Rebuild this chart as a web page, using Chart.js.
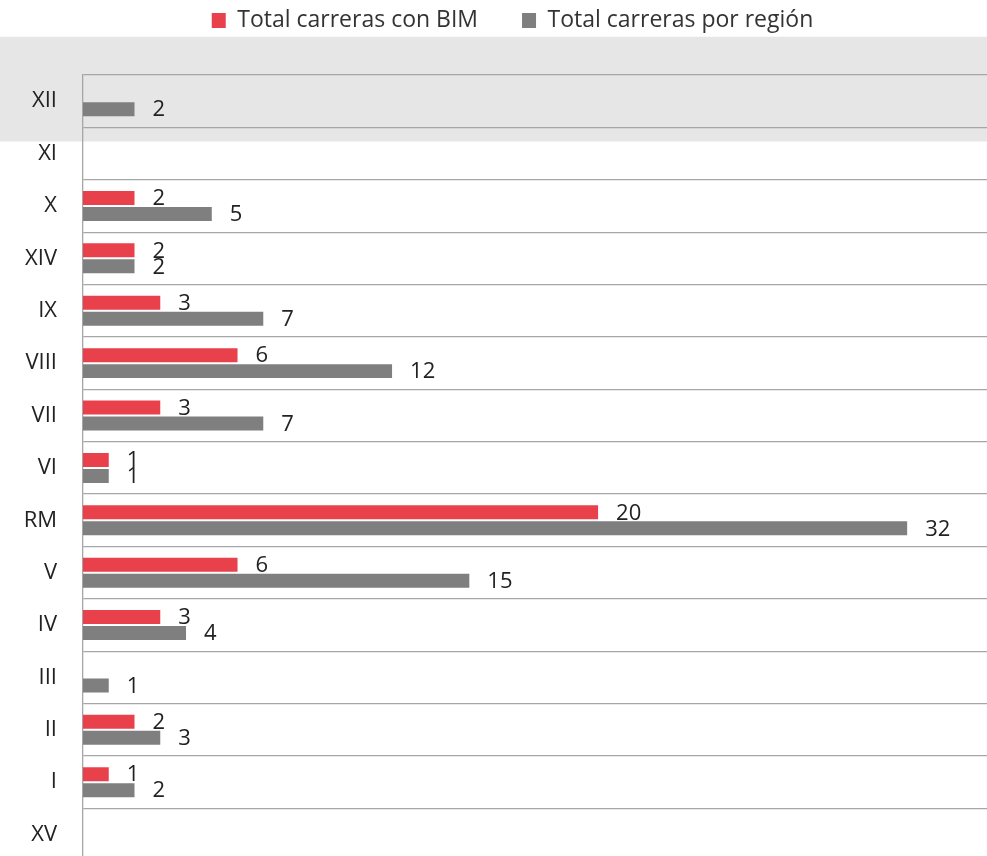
<!DOCTYPE html>
<html>
<head>
<meta charset="utf-8">
<script src="https://cdn.jsdelivr.net/npm/chart.js@4.4.1/dist/chart.umd.min.js"></script>
<style>
  html, body { margin: 0; padding: 0; background: #fff; overflow: hidden; }
  #wrap { width: 987px; height: 900px; position: relative; }
</style>
</head>
<body>
<div id="wrap"><canvas id="chart"></canvas></div>
<script>
// regiones, de arriba hacia abajo
const regiones = ["XII", "XI", "X", "XIV", "IX", "VIII", "VII", "VI", "RM", "V", "IV", "III", "II", "I", "XV"];
const carrerasBIM = [null, null, 2, 2, 3, 6, 3, 1, 20, 6, 3, null, 2, 1, null];
const carrerasTotal = [2, null, 5, 2, 7, 12, 7, 1, 32, 15, 4, 1, 3, 2, null];
const rojo = "#E8414B";
const gris = "#7F7F7F";

// franja gris detras de la fila XII
const franja = {
    id: 'franja',
    beforeDraw(chart) {
        const y = chart.scales.y;
        const c = y.getPixelForValue(0);
        const paso = y.getPixelForValue(1) - c;
        const ctx = chart.ctx;
        ctx.save();
        ctx.fillStyle = "#E6E6E6";
        ctx.fillRect(0, c - paso * 1.23, chart.width, paso * 2.0);
        ctx.restore();
    }
};

// numeros al final de cada barra
const etiquetas = {
    id: 'etiquetas',
    afterDatasetsDraw(chart) {
        const ctx = chart.ctx;
        ctx.save();
        ctx.font = "22px 'Open Sans'";
        ctx.fillStyle = "#222";
        ctx.textBaseline = "middle";
        chart.data.datasets.forEach((ds, i) => {
            chart.getDatasetMeta(i).data.forEach((bar, j) => {
                if (ds.data[j] == null) return;
                ctx.fillText(ds.data[j], bar.x + 18, bar.y + 1);
            });
        });
        ctx.restore();
    }
};

// espacio entre leyenda y grafico, y leyenda algo a la derecha
const espacioLeyenda = {
    id: 'espacioLeyenda',
    beforeInit(chart) {
        const fit = chart.legend.fit;
        chart.legend.fit = function () {
            fit.bind(chart.legend)();
            this.height += 33;
        };
    },
    afterLayout(chart) {
        chart.legend.left += 19;
        chart.legend.right += 19;
    }
};

new Chart(document.getElementById('chart'), {
    type: 'bar',
    data: {
        labels: regiones,
        datasets: [
            { label: "Total carreras con BIM", data: carrerasBIM, backgroundColor: rojo },
            { label: "Total carreras por región", data: carrerasTotal, backgroundColor: gris }
        ]
    },
    options: {
        indexAxis: 'y',
        responsive: true,
        maintainAspectRatio: false,
        animation: false,
        categoryPercentage: 0.61,
        barPercentage: 0.875,
        layout: { padding: { top: -35, right: 0, bottom: 0, left: 0 } },
        plugins: {
            tooltip: { enabled: false },
            legend: {
                position: 'top',
                labels: {
                    font: { family: "'Open Sans'", size: 23 },
                    color: "#333",
                    boxWidth: 14,
                    boxHeight: 15,
                    padding: 44
                }
            }
        },
        scales: {
            x: {
                display: false,
                min: 0,
                max: 35.1
            },
            y: {
                afterFit(s) { s.width = 83; },
                grid: { color: "#A6A6A6", lineWidth: 1.3, drawTicks: false },
                border: { color: "#A6A6A6", width: 1.3 },
                ticks: {
                    font: { family: "'Open Sans'", size: 22 },
                    color: "#222",
                    padding: 26
                }
            }
        }
    },
    plugins: [franja, etiquetas, espacioLeyenda]
});
</script>
</body>
</html>
